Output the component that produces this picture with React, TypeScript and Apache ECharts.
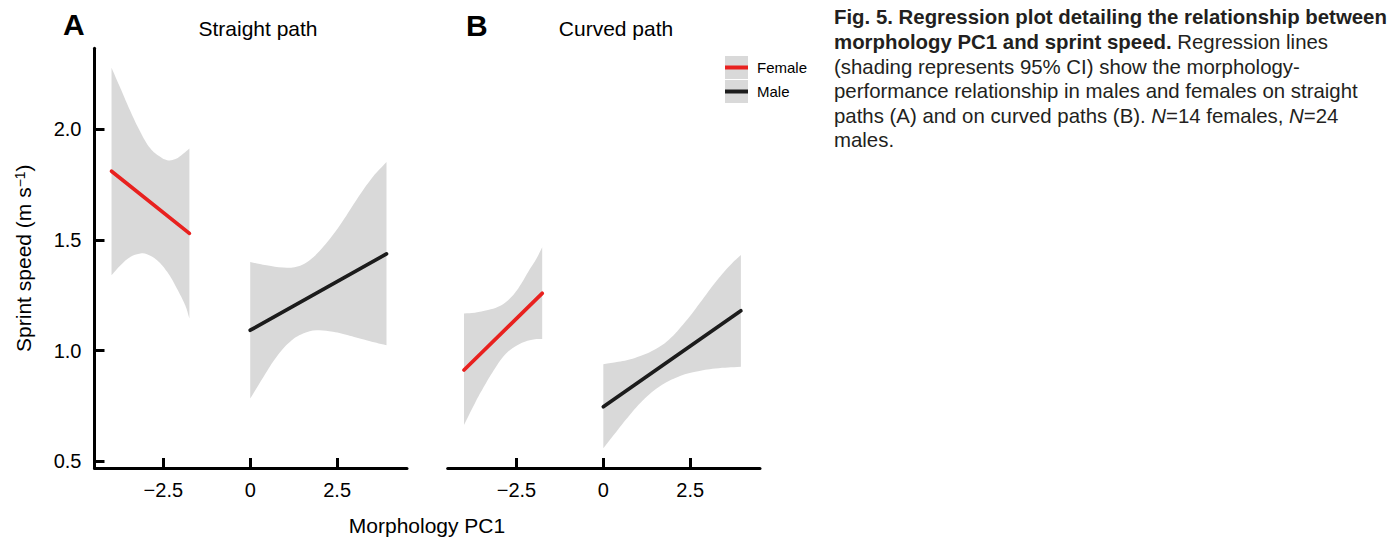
import React, { useEffect, useRef } from 'react';
import * as echarts from 'echarts';

const FONT = '"Liberation Sans", Arial, Helvetica, sans-serif';

const panelLetters = ['A', 'B'];
const panelTitles = ['Straight path', 'Curved path'];
const sexes = ['Female', 'Male'];
const xTicks = [-2.5, 0, 2.5];
const yTicks = [0.5, 1.0, 1.5, 2.0];
const xRange = [-4.48, 4.51];
const yRange = [0.469, 2.367];

// Regression lines [PC1, speed]
const femaleStraightLine = [[-3.99, 1.811], [-1.75, 1.53]];
const maleStraightLine = [[0, 1.092], [3.92, 1.437]];
const femaleCurvedLine = [[-4.01, 0.912], [-1.76, 1.259]];
const maleCurvedLine = [[0, 0.746], [3.96, 1.18]];

// 95% CI edges
const femaleStraightUpper = [[-3.99, 2.279], [-3.73, 2.185], [-3.44, 2.08], [-3.16, 1.989], [-2.87, 1.914], [-2.59, 1.876], [-2.39, 1.861], [-2.15, 1.866], [-1.92, 1.891], [-1.75, 1.914]];
const femaleStraightLower = [[-3.99, 1.341], [-3.73, 1.386], [-3.44, 1.424], [-3.16, 1.439], [-2.97, 1.436], [-2.68, 1.409], [-2.39, 1.356], [-2.11, 1.281], [-1.87, 1.205], [-1.75, 1.145]];
const maleStraightUpper = [[0, 1.401], [0.47, 1.386], [0.95, 1.376], [1.33, 1.379], [1.71, 1.409], [2.1, 1.469], [2.58, 1.567], [3.05, 1.68], [3.53, 1.786], [3.92, 1.853]];
const maleStraightLower = [[0, 0.783], [0.38, 0.881], [0.76, 0.972], [1.14, 1.039], [1.52, 1.077], [1.91, 1.092], [2.38, 1.085], [2.86, 1.067], [3.34, 1.047], [3.92, 1.024]];
const femaleCurvedUpper = [[-4.01, 1.168], [-3.7, 1.171], [-3.32, 1.183], [-3.03, 1.198], [-2.74, 1.228], [-2.45, 1.281], [-2.16, 1.356], [-1.92, 1.417], [-1.76, 1.467]];
const femaleCurvedLower = [[-4.01, 0.663], [-3.7, 0.761], [-3.41, 0.844], [-3.12, 0.919], [-2.84, 0.98], [-2.55, 1.017], [-2.26, 1.04], [-1.97, 1.051], [-1.76, 1.052]];
const maleCurvedUpper = [[0, 0.938], [0.43, 0.949], [0.91, 0.967], [1.4, 0.998], [1.88, 1.048], [2.36, 1.13], [2.84, 1.228], [3.32, 1.327], [3.7, 1.394], [3.96, 1.432]];
const maleCurvedLower = [[0, 0.558], [0.34, 0.626], [0.72, 0.701], [1.2, 0.784], [1.68, 0.844], [2.16, 0.882], [2.65, 0.904], [3.22, 0.919], [3.96, 0.927]];

const captionLines = [
  '{b|Fig. 5. Regression plot detailing the relationship between}',
  '{b|morphology PC1 and sprint speed.} Regression lines',
  '(shading represents 95% CI) show the morphology-',
  'performance relationship in males and females on straight',
  'paths (A) and on curved paths (B). {i|N}=14 females, {i|N}=24',
  'males.',
];

const RED = '#e8211f';
const BLACK = '#1c1c1c';
const BAND = '#d9d9d9';
const CAP = 20.4;

function bandSeries(upper: number[][], lower: number[][], idx: number) {
  return {
    type: 'custom',
    xAxisIndex: idx,
    yAxisIndex: idx,
    silent: true,
    z: 1,
    clip: false,
    data: [upper[0]],
    encode: { x: 0, y: 1 },
    renderItem: (_params: any, api: any) => {
      const up = upper.map((p) => api.coord(p));
      const lo = lower.map((p) => api.coord(p)).reverse();
      const dup = (a: number[][]) => [a[0], ...a, a[a.length - 1]];
      return {
        type: 'polygon',
        shape: { points: [...dup(up), ...dup(lo)], smooth: 0.4 },
        style: { fill: BAND, lineWidth: 0 },
      };
    },
  };
}

function lineSeries(data: number[][], name: string, color: string, idx: number) {
  return {
    type: 'line',
    name,
    data,
    xAxisIndex: idx,
    yAxisIndex: idx,
    symbol: 'none',
    showSymbol: false,
    silent: true,
    z: 3,
    color,
    itemStyle: { color },
    lineStyle: { color, width: 3.7, cap: 'round' },
  };
}

const fmtX = (v: number) => (v < 0 ? '\u2212' + Math.abs(v) : String(v));

function xAxisCfg(idx: number) {
  return {
    type: 'value',
    gridIndex: idx,
    min: xRange[0],
    max: xRange[1],
    axisLine: { show: true, onZero: false, lineStyle: { color: '#000', width: 3 } },
    axisTick: { show: true, inside: true, length: 10, customValues: xTicks, lineStyle: { color: '#000', width: 3 } },
    axisLabel: { customValues: xTicks, formatter: fmtX, fontSize: 20, fontFamily: FONT, color: '#000', margin: 12 },
    splitLine: { show: false },
  };
}

export default function App() {
  const ref = useRef<HTMLDivElement>(null);
  useEffect(() => {
    if (!ref.current) return;
    const chart = echarts.init(ref.current, undefined, { renderer: 'svg' });
    const option: any = {
      animation: false,
      backgroundColor: '#fff',
      grid: [
        { left: 94.5, top: 48.3, width: 312.5, height: 419.7 },
        { left: 447.7, top: 48.3, width: 312.3, height: 419.7 },
      ],
      xAxis: [xAxisCfg(0), xAxisCfg(1)],
      yAxis: [
        {
          type: 'value',
          gridIndex: 0,
          min: yRange[0],
          max: yRange[1],
          name: 'Sprint speed (m s{sup|\u22121})',
          nameLocation: 'middle',
          nameGap: 61,
          nameTextStyle: {
            fontSize: 21,
            fontFamily: FONT,
            color: '#000',
            rich: { sup: { fontSize: 14, fontFamily: FONT, color: '#000', verticalAlign: 'top' } },
          },
          axisLine: { show: true, onZero: false, lineStyle: { color: '#000', width: 3 } },
          axisTick: { show: true, inside: true, length: 10, customValues: yTicks, lineStyle: { color: '#000', width: 3 } },
          axisLabel: { customValues: yTicks, formatter: (v: number) => v.toFixed(1), fontSize: 20, fontFamily: FONT, color: '#000', margin: 13 },
          splitLine: { show: false },
        },
        {
          type: 'value',
          gridIndex: 1,
          min: yRange[0],
          max: yRange[1],
          show: false,
          axisLine: { onZero: false },
          splitLine: { show: false },
        },
      ],
      legend: {
        left: 725,
        top: 56,
        orient: 'vertical',
        padding: 0,
        itemWidth: 23,
        itemHeight: 4,
        itemGap: 1,
        icon: 'rect',
        selectedMode: false,
        data: sexes,
        itemStyle: { borderWidth: 0 },
        textStyle: { fontSize: 15, fontFamily: FONT, color: '#000', lineHeight: 23, padding: [0, 0, 0, 4] },
        z: 10,
      },
      graphic: [
        { type: 'rect', left: 725, top: 56, shape: { width: 23, height: 23 }, style: { fill: BAND }, z: 0 },
        { type: 'rect', left: 725, top: 80, shape: { width: 23, height: 23 }, style: { fill: BAND }, z: 0 },
        { type: 'text', x: 63, y: 24.5, style: { text: panelLetters[0], font: `bold 30px ${FONT}`, fill: '#000', align: 'left', verticalAlign: 'middle' } },
        { type: 'text', x: 258, y: 28, style: { text: panelTitles[0], font: `21px ${FONT}`, fill: '#000', align: 'center', verticalAlign: 'middle' } },
        { type: 'text', x: 466, y: 25, style: { text: panelLetters[1], font: `bold 30px ${FONT}`, fill: '#000', align: 'left', verticalAlign: 'middle' } },
        { type: 'text', x: 616, y: 28, style: { text: panelTitles[1], font: `21px ${FONT}`, fill: '#000', align: 'center', verticalAlign: 'middle' } },
        { type: 'text', x: 427, y: 525.5, style: { text: 'Morphology PC1', font: `21px ${FONT}`, fill: '#000', align: 'center', verticalAlign: 'middle' } },
        {
          type: 'text',
          x: 834,
          y: 5.2,
          style: {
            text: captionLines.join('\n'),
            font: `${CAP}px ${FONT}`,
            fill: '#231f20',
            lineHeight: 24.6,
            align: 'left',
            verticalAlign: 'top',
            rich: {
              b: { fontWeight: 'bold', fontSize: CAP, fontFamily: FONT, fill: '#231f20', lineHeight: 24.6 },
              i: { fontStyle: 'italic', fontSize: CAP, fontFamily: FONT, fill: '#231f20', lineHeight: 24.6 },
            },
          },
        },
      ],
      series: [
        bandSeries(femaleStraightUpper, femaleStraightLower, 0),
        bandSeries(maleStraightUpper, maleStraightLower, 0),
        bandSeries(femaleCurvedUpper, femaleCurvedLower, 1),
        bandSeries(maleCurvedUpper, maleCurvedLower, 1),
        lineSeries(femaleStraightLine, sexes[0], RED, 0),
        lineSeries(maleStraightLine, sexes[1], BLACK, 0),
        lineSeries(femaleCurvedLine, sexes[0], RED, 1),
        lineSeries(maleCurvedLine, sexes[1], BLACK, 1),
      ],
    };
    chart.setOption(option);
    return () => chart.dispose();
  }, []);
  return <div ref={ref} style={{ position: 'absolute', left: 0, top: 0, width: 1390, height: 537 }} />;
}
